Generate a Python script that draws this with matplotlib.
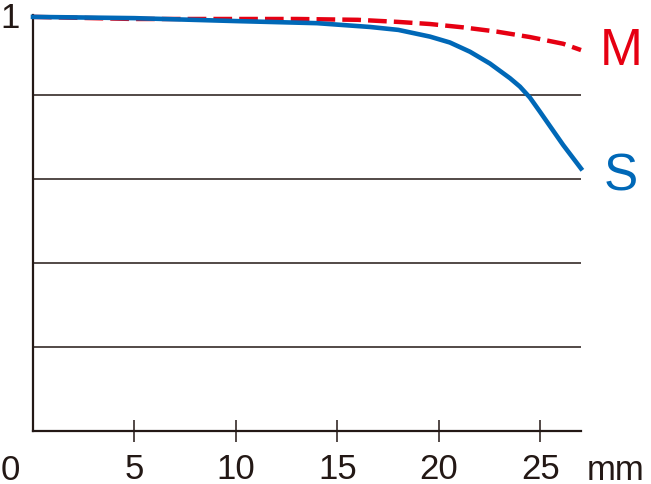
import matplotlib.pyplot as plt

# image height (mm) and contrast values
s_x = [0, 5, 10, 14, 16.6, 18, 19.56, 20.54, 21.53, 22.51, 23.5, 23.99, 24.48, 24.98, 25.47, 26.12, 27]
s_y = [0.986, 0.983, 0.976, 0.971, 0.962, 0.955, 0.939, 0.925, 0.903, 0.875, 0.840, 0.820, 0.794, 0.760, 0.726, 0.681, 0.625]

m_x = [0, 5, 9, 13, 16, 18, 19.56, 21.2, 22.84, 24.48, 26.12, 27]
m_y = [0.986, 0.981, 0.981, 0.981, 0.979, 0.974, 0.969, 0.961, 0.951, 0.938, 0.922, 0.907]

x_ticks = [5, 10, 15, 20, 25]
grid_y = [0.2, 0.4, 0.6, 0.8]

red = "#E60012"
blue = "#0068B7"
ink = "#231815"

plt.rcParams["font.family"] = ["Liberation Sans", "DejaVu Sans"]

fig = plt.figure(figsize=(6.51, 4.84), dpi=100)
ax = fig.add_axes([33 / 651, 53 / 484, 548 / 651, 420 / 484])
ax.set_xlim(0, 27)
ax.set_ylim(0, 1)

for g in grid_y:
    ax.axhline(g, color=ink, lw=1.1, zorder=1)

ax.plot(m_x, m_y, color=red, lw=3.2, dashes=(4.2, 1.6), clip_on=False, zorder=3)
ax.plot(s_x, s_y, color=blue, lw=3.3, clip_on=False, zorder=4,
        solid_joinstyle="round")

for side in ["top", "right"]:
    ax.spines[side].set_visible(False)
for side in ["left", "bottom"]:
    ax.spines[side].set_color(ink)
    ax.spines[side].set_linewidth(1.6)
ax.spines["left"].set_bounds(0, 0.99)

ax.set_yticks([])
ax.set_xticks(x_ticks)
ax.set_xticklabels([str(t) for t in x_ticks])
ax.tick_params(axis="x", direction="inout", length=16, width=1.1, color=ink,
               labelsize=25, labelcolor=ink, pad=8)

# labels outside the ticks
ax.text(-1.13, -0.117, "0", ha="center", va="baseline", fontsize=25, color=ink, clip_on=False)
ax.text(28.7, -0.117, "mm", ha="center", va="baseline", fontsize=25, color=ink, clip_on=False)
ax.text(-1.13, 0.981, "1", ha="center", va="center", fontsize=25, color=ink, clip_on=False)

ax.text(28.97, 0.904, "M", ha="center", va="center", fontsize=37, color=red, clip_on=False)
ax.text(28.97, 0.604, "S", ha="center", va="center", fontsize=37, color=blue, clip_on=False)

fig.savefig("out.png", dpi=100)
